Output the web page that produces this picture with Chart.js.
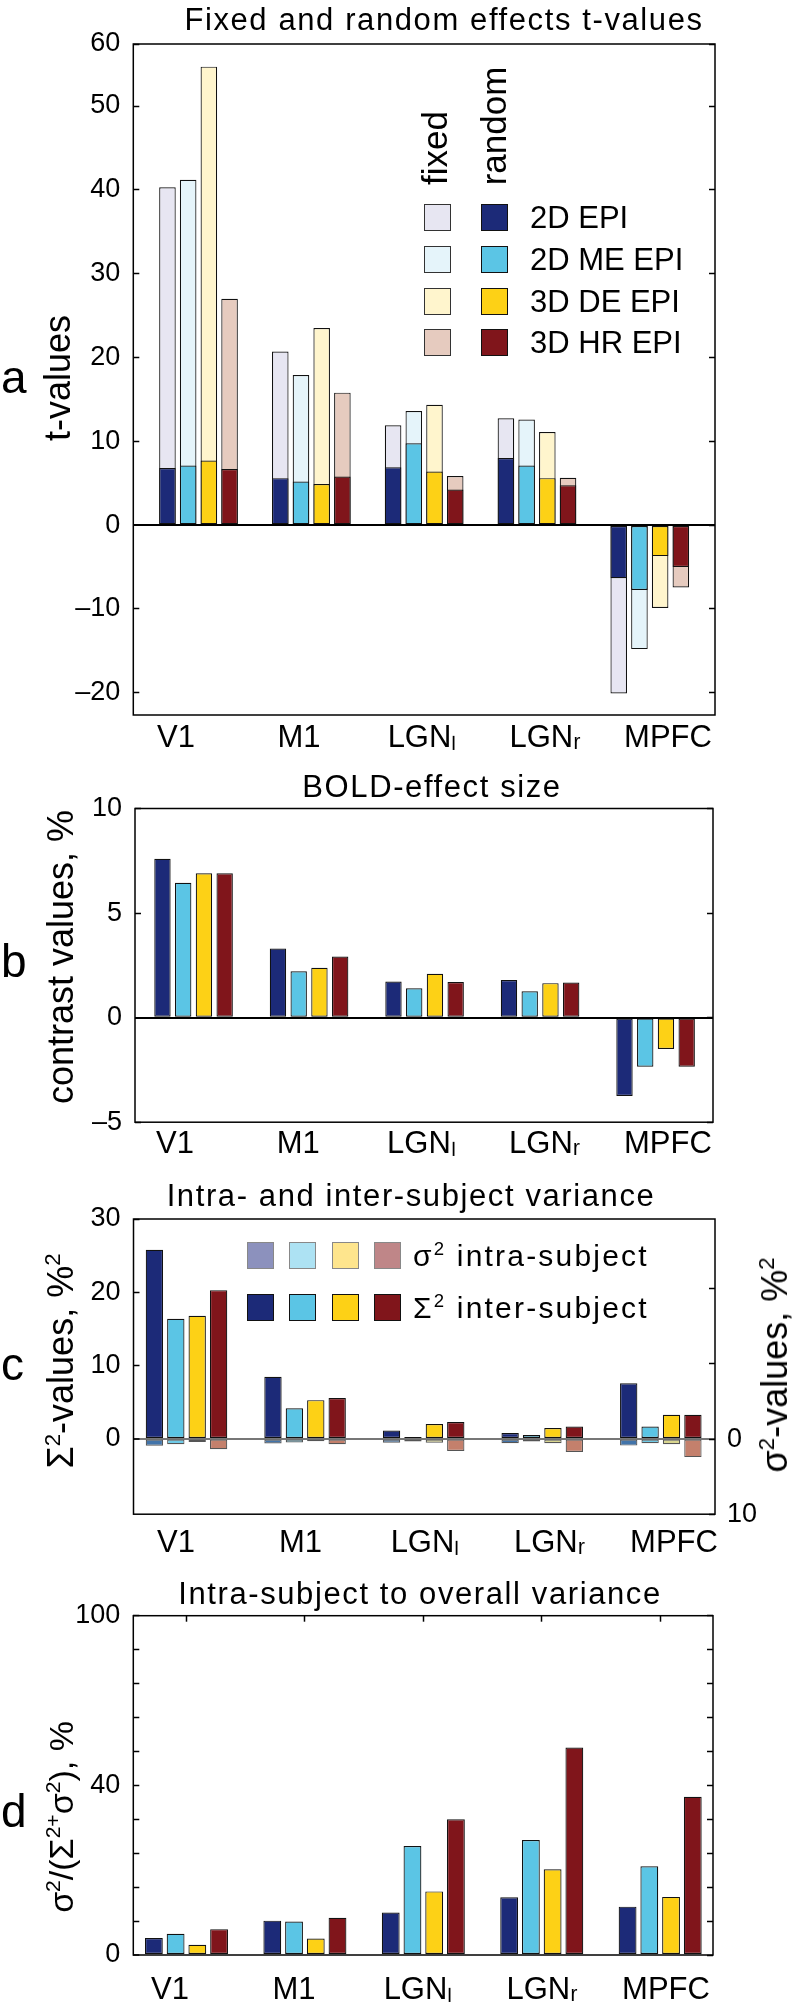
<!DOCTYPE html>
<html>
<head>
<meta charset="utf-8">
<script src="https://cdn.jsdelivr.net/npm/chart.js@4.4.1/dist/chart.umd.min.js"></script>
<style>
  body { margin: 0; background: #fff; }
  #page { position: relative; width: 798px; height: 2015px; overflow: hidden;
          font-family: "Liberation Sans", Arial, sans-serif; color: #000; }
  canvas { position: absolute; left: 0; }
  .txt { position: absolute; white-space: nowrap; line-height: 1; }
  .title { font-size: 31px; letter-spacing: 1.6px; transform: translateX(-50%); }
  .ytitle { font-size: 36px; transform: translate(-50%, -50%) rotate(-90deg); }
  .letter { font-size: 46px; }
  .sw { position: absolute; box-sizing: border-box; border: 1.5px solid #222; }
  sup { font-size: 0.62em; vertical-align: 0.6em; line-height: 0; }
</style>
</head>
<body>
<div id="page">
  <canvas id="chartA" width="798" height="770" style="top:0"></canvas>
  <canvas id="chartB" width="798" height="410" style="top:770px"></canvas>
  <canvas id="chartC" width="798" height="400" style="top:1180px"></canvas>
  <canvas id="chartD" width="798" height="435" style="top:1580px"></canvas>

  <div class="txt title" style="left:444px; top:4px">Fixed and random effects t-values</div>
  <div class="txt title" style="left:432px; top:771px">BOLD-effect size</div>
  <div class="txt title" style="left:411px; top:1180px">Intra- and inter-subject variance</div>
  <div class="txt title" style="left:420px; top:1578px">Intra-subject to overall variance</div>

  <div class="txt letter" style="left:1px; top:354px">a</div>
  <div class="txt letter" style="left:1px; top:938px">b</div>
  <div class="txt letter" style="left:1px; top:1341px">c</div>
  <div class="txt letter" style="left:1px; top:1788px">d</div>

  <div class="txt ytitle" style="left:58px; top:378px">t-values</div>
  <div class="txt ytitle" style="left:61px; top:957px">contrast values, %</div>
  <div class="txt ytitle" style="left:61px; top:1361px">&Sigma;<sup>2</sup>-values, %<sup>2</sup></div>
  <div class="txt ytitle" style="left:775px; top:1365px">&sigma;<sup>2</sup>-values, %<sup>2</sup></div>
  <div class="txt ytitle" style="left:61px; top:1817px; font-size:34px">&sigma;<sup>2</sup>/(&Sigma;<sup>2+</sup>&sigma;<sup>2</sup>), %</div>

  <div class="txt ytitle" style="left:434px; top:148px; font-size:35px">fixed</div>
  <div class="txt ytitle" style="left:493px; top:126px; font-size:35px">random</div>
</div>

<script>
const FONT = '"Liberation Sans", Arial, sans-serif';

// categories and series
const regions = ['V1', 'M1', 'LGN\u2097', 'LGN\u1d63', 'MPFC'];
const sequences = ['2D EPI', '2D ME EPI', '3D DE EPI', '3D HR EPI'];
const darkColors = ['#1c2a78', '#5bc5e5', '#fdd116', '#80151b'];
const fixedColors = ['#e7e6f2', '#e5f4fa', '#fff5cd', '#e6cbbf'];
const intraLegendColors = ['#8c91bd', '#ade2f3', '#fee58d', '#bf8688'];
const intraBarColors = ['#4274aa', '#6fcbe8', '#d9d68f', '#c4806c'];

// a: fixed and random effects t-values
const tRandom2D = [6.8, 5.6, 6.9, 8.0, -6.35];
const tRandomME = [7.1, 5.2, 9.75, 7.1, -7.75];
const tRandomDE = [7.7, 4.9, 6.4, 5.6, -3.7];
const tRandomHR = [6.7, 5.8, 4.25, 4.75, -5.0];
const tFixed2D = [40.3, 20.7, 11.9, 12.75, -20.1];
const tFixedME = [41.2, 17.9, 13.6, 12.6, -14.8];
const tFixedDE = [54.7, 23.5, 14.35, 11.1, -9.9];
const tFixedHR = [27.0, 15.8, 5.85, 5.65, -7.45];
const tTickValues = [-20, -10, 0, 10, 20, 30, 40, 50, 57.4];
const tTickLabels = ['\u201320', '\u201310', '0', '10', '20', '30', '40', '50', '60'];

// b: BOLD-effect size
const bold2D = [7.6, 3.3, 1.73, 1.8, -3.75];
const boldME = [6.45, 2.22, 1.4, 1.26, -2.35];
const boldDE = [6.9, 2.38, 2.1, 1.65, -1.5];
const boldHR = [6.9, 2.92, 1.7, 1.68, -2.35];
const bTickValues = [-5, 0, 5, 10];
const bTickLabels = ['\u20135', '0', '5', '10'];

// c: intra- and inter-subject variance
const inter2D = [25.8, 8.5, 1.15, 0.83, 7.6];
const interME = [16.4, 4.2, 0.27, 0.54, 1.7];
const interDE = [16.8, 5.3, 2.04, 1.5, 3.3];
const interHR = [20.3, 5.6, 2.31, 1.7, 3.3];
const intra2D = [0.9, 0.6, 0.5, 0.55, 0.87];
const intraME = [0.7, 0.45, 0.33, 0.33, 0.56];
const intraDE = [0.38, 0.28, 0.49, 0.56, 0.68];
const intraHR = [1.36, 0.7, 1.58, 1.73, 2.4];
const cTickValues = [0, 10, 20, 30];
const cTickLabels = ['0', '10', '20', '30'];
const cRightTickValues = [-20, -10, 0, 10];
const cRightTickLabels = ['', '', '0', '10'];

// d: intra-subject to overall variance
const ratio2D = [4.0, 8.1, 10.0, 13.6, 11.4];
const ratioME = [5.0, 7.9, 25.7, 27.1, 20.9];
const ratioDE = [2.4, 3.9, 15.0, 20.2, 13.7];
const ratioHR = [6.1, 8.8, 32.0, 48.9, 37.3];
const dTickValues = [0, 8, 16, 24, 32, 40, 48, 56, 64, 72, 80];
const dTickLabels = ['0', '', '', '', '', '40', '', '', '', '', '100'];

// frame round the plot area
const frame = {
  id: 'frame',
  afterDraw(chart) {
    const { ctx, chartArea: a } = chart;
    ctx.save();
    ctx.strokeStyle = '#000';
    ctx.lineWidth = 1.5;
    ctx.strokeRect(a.left, a.top, a.right - a.left, a.bottom - a.top);
    ctx.restore();
  }
};

const regionTicks = s => { s.ticks = regions.map((r, i) => ({ value: i + 1 })); };
const fixedTicks = values => s => { s.ticks = values.map(v => ({ value: v })); };

function barSet(vals, color, k, axis, border) {
  return {
    data: vals.map((v, i) => ({ x: i + 1, y: v })),
    backgroundColor: color,
    borderColor: border || '#111',
    borderWidth: 1.2,
    borderSkipped: false,
    stack: 'g' + k,
    yAxisID: axis || 'y'
  };
}

function barAxis(min, max) {
  return { type: 'linear', display: false, min, max, offset: false,
    grid: { offset: false }, afterBuildTicks: regionTicks };
}

function labelAxis(min, max, pad) {
  return {
    type: 'linear', position: 'bottom', min, max, offset: false,
    afterBuildTicks: regionTicks,
    afterFit: s => { s.height = 50; },
    grid: { display: false, drawTicks: false, tickLength: 0, offset: false },
    border: { display: false },
    ticks: { padding: pad, color: '#000', font: { family: FONT, size: 31 },
      maxRotation: 0, autoSkip: false, callback: v => regions[v - 1] }
  };
}

function leftAxis(min, max, values, labels, zeroColor, w) {
  return {
    type: 'linear', position: 'left', min, max, stacked: false,
    afterBuildTicks: fixedTicks(values),
    afterFit: s => { s.width = w; },
    border: { display: false },
    grid: {
      tickLength: -6, tickColor: '#000', tickWidth: 1.5,
      color: c => (zeroColor && c.tick && c.tick.value === 0) ? zeroColor : 'rgba(0,0,0,0)',
      lineWidth: c => (c.tick && c.tick.value === 0) ? 2 : 1
    },
    ticks: { padding: 19, color: '#000', font: { family: FONT, size: 27 }, autoSkip: false,
      callback: (v, i) => labels[i] }
  };
}

function mirrorAxis(min, max, values, w) {
  return {
    type: 'linear', position: 'right', min, max, stacked: false,
    afterBuildTicks: fixedTicks(values),
    afterFit: s => { s.width = w; },
    border: { display: false },
    grid: { drawOnChartArea: false, tickLength: -6, tickColor: '#000', tickWidth: 1.5 },
    ticks: { display: false, autoSkip: false }
  };
}

function makePanel(id, datasets, scales, padding, cp, bp) {
  return new Chart(document.getElementById(id), {
    type: 'bar',
    data: { datasets },
    options: {
      responsive: false,
      animation: false,
      devicePixelRatio: 1,
      layout: { padding },
      datasets: { bar: { categoryPercentage: cp, barPercentage: bp } },
      plugins: { legend: { display: false }, tooltip: { enabled: false } },
      scales
    },
    plugins: [frame]
  });
}

// panel a
const tRandom = [tRandom2D, tRandomME, tRandomDE, tRandomHR];
const tFixed = [tFixed2D, tFixedME, tFixedDE, tFixedHR];
makePanel('chartA',
  [...tRandom.map((v, k) => barSet(v, darkColors[k], k)),
   ...tFixed.map((v, k) => barSet(v, fixedColors[k], k))],
  {
    x: barAxis(0.422, 5.578),
    xl: labelAxis(0.653, 5.382, 5),
    y: leftAxis(-22.66, 57.4, tTickValues, tTickLabels, '#000', 133.3),
    yr: mirrorAxis(-22.66, 57.4, tTickValues, 83)
  },
  { top: 44, bottom: 5, left: 0, right: 0 }, 0.734, 0.8);

// panel b
const bold = [bold2D, boldME, boldDE, boldHR];
makePanel('chartB',
  bold.map((v, k) => barSet(v, darkColors[k], k)),
  {
    x: barAxis(0.493, 5.497),
    xl: labelAxis(0.675, 5.366, 4),
    y: leftAxis(-5, 10, bTickValues, bTickLabels, '#000', 135),
    yr: mirrorAxis(-5, 10, bTickValues, 85)
  },
  { top: 38.5, bottom: 7.8, left: 0, right: 0 }, 0.718, 0.79);

// panel c
const inter = [inter2D, interME, interDE, interHR];
const intra = [intra2D, intraME, intraDE, intraHR];
makePanel('chartC',
  [...inter.map((v, k) => barSet(v, darkColors[k], k)),
   ...intra.map((v, k) => barSet(v, intraBarColors[k], k, 'y2', '#555'))],
  {
    x: barAxis(0.553, 5.457),
    xl: labelAxis(0.659, 5.329, 11),
    y: leftAxis(-10.25, 30, cTickValues, cTickLabels, '#777', 133.5),
    y2: {
      type: 'linear', position: 'right', reverse: true, min: -29.28, max: 10, stacked: false,
      afterBuildTicks: fixedTicks(cRightTickValues),
      afterFit: s => { s.width = 83; },
      border: { display: false },
      grid: { drawOnChartArea: false, tickLength: -6, tickColor: '#000', tickWidth: 1.5 },
      ticks: { padding: 18, color: '#000', font: { family: FONT, size: 27 }, autoSkip: false,
        callback: (v, i) => cRightTickLabels[i] }
    }
  },
  { top: 39, bottom: 15.8, left: 0, right: 0 }, 0.722, 0.81);

// panel d
const ratio = [ratio2D, ratioME, ratioDE, ratioHR];
makePanel('chartD',
  ratio.map((v, k) => barSet(v, darkColors[k], k)),
  {
    x: barAxis(0.551, 5.446),
    xl: labelAxis(0.704, 5.379, 17),
    xt: {
      type: 'linear', position: 'top', min: 0.551, max: 5.446, offset: false,
      afterBuildTicks: regionTicks,
      afterFit: s => { s.height = 0; },
      border: { display: false },
      grid: { offset: false, drawOnChartArea: false, tickLength: -6, tickColor: '#000', tickWidth: 1.5 },
      ticks: { display: false }
    },
    y: leftAxis(0, 80, dTickValues, dTickLabels, null, 133.3),
    yr: mirrorAxis(0, 80, dTickValues, 85)
  },
  { top: 35.7, bottom: 10, left: 0, right: 0 }, 0.734, 0.82);

// legends
const page = document.getElementById('page');
function swatch(x, y, color, border) {
  const d = document.createElement('div');
  d.className = 'sw';
  d.style.cssText = `left:${x}px; top:${y}px; width:27px; height:27px; background:${color}; border-color:${border}`;
  page.appendChild(d);
}
function label(html, x, y, size, spacing) {
  const d = document.createElement('div');
  d.className = 'txt';
  d.style.cssText = `left:${x}px; top:${y}px; font-size:${size}px; letter-spacing:${spacing || 0}px`;
  d.innerHTML = html;
  page.appendChild(d);
}

sequences.forEach((name, k) => {
  const top = 204 + k * 41.8;
  swatch(424, top, fixedColors[k], '#333');
  swatch(481, top, darkColors[k], '#111');
  label(name, 530, top - 2, 31);
});

intraLegendColors.forEach((c, k) => swatch(246.7 + k * 42.4, 1242.3, c, '#888'));
darkColors.forEach((c, k) => swatch(246.7 + k * 42.4, 1294.3, c, '#111'));
label('&sigma;<sup>2</sup> intra-subject', 413, 1241, 30, 2.2);
label('&Sigma;<sup>2</sup> inter-subject', 413, 1293, 30, 2.2);
</script>
</body>
</html>
